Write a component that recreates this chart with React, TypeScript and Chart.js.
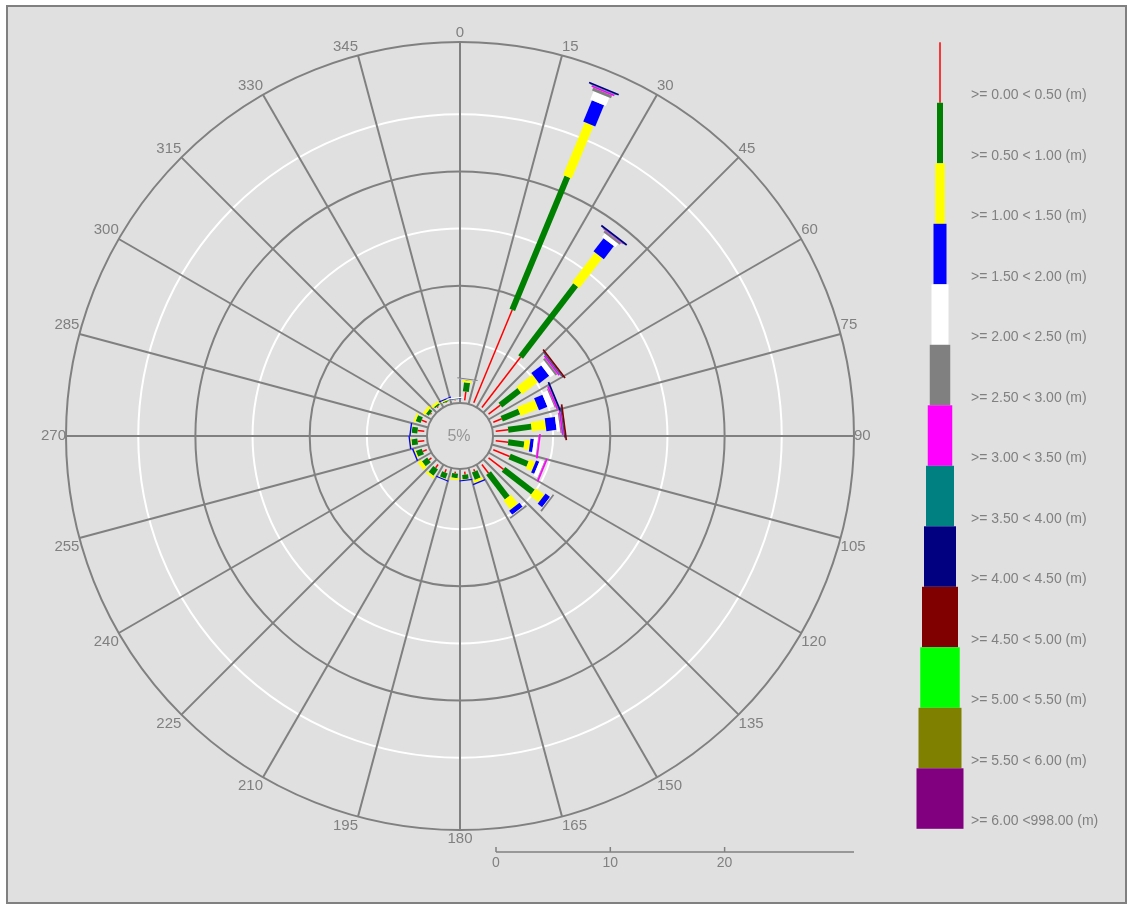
import React, { useEffect, useRef } from 'react';
import { Chart, registerables } from 'chart.js';

Chart.register(...registerables);

// ---------- data ----------
const DIRECTION_LABELS = ['0', '15', '30', '45', '60', '75', '90', '105', '120', '135', '150', '165', '180', '195', '210', '225', '240', '255', '270', '285', '300', '315', '330', '345'];

// bar directions (degrees, clockwise from north)
const BAR_DIRECTIONS = [7.5, 22.5, 37.5, 52.5, 67.5, 82.5, 97.5, 112.5, 127.5, 142.5, 157.5, 172.5, 187.5, 202.5, 217.5, 232.5, 247.5, 262.5, 277.5, 292.5, 307.5, 322.5, 337.5, 352.5];

const CLASS_LABELS = [
  '>= 0.00 < 0.50 (m)', '>= 0.50 < 1.00 (m)', '>= 1.00 < 1.50 (m)', '>= 1.50 < 2.00 (m)',
  '>= 2.00 < 2.50 (m)', '>= 2.50 < 3.00 (m)', '>= 3.00 < 3.50 (m)', '>= 3.50 < 4.00 (m)',
  '>= 4.00 < 4.50 (m)', '>= 4.50 < 5.00 (m)', '>= 5.00 < 5.50 (m)', '>= 5.50 < 6.00 (m)',
  '>= 6.00 <998.00 (m)',
];

// frequency (%) per direction, one array per wave height class
const H_000_050 = [0.76, 8.8, 5.56, 1.3, 0.8, 1.1, 1.1, 1.55, 1.65, 0.95, 0.2, 0.25, 0.15, 0.3, 0.35, 0.27, 0.37, 0.59, 0.59, 0.48, 0.1, 0.1, 0.05, 0.05];
const H_050_100 = [0.8, 12.6, 7.92, 2.1, 1.65, 2.05, 1.4, 1.7, 3.25, 2.7, 0.7, 0.4, 0.4, 0.5, 0.67, 0.58, 0.56, 0.52, 0.5, 0.46, 0.3, 0.15, 0.1, 0.03];
const H_100_150 = [0.2, 5.0, 3.3, 1.75, 1.65, 1.25, 0.5, 0.57, 0.95, 1.0, 0.25, 0.05, 0.15, 0.05, 0.2, 0.35, 0.12, 0.1, 0.05, 0.16, 0.24, 0.2, 0.1, 0.03];
const H_150_200 = [0.02, 2.0, 1.45, 1.1, 0.8, 0.9, 0.3, 0.3, 0.5, 0.45, 0.12, 0.1, 0, 0.1, 0, 0, 0.12, 0.12, 0.12, 0, 0, 0, 0.1, 0.03];
const H_200_250 = [0.05, 0.8, 0.4, 0.45, 0.55, 0.3, 0.35, 0.4, 0.05, 0.05, 0, 0, 0, 0, 0, 0, 0, 0, 0, 0, 0, 0, 0, 0.1];
const H_250_300 = [0.08, 0.27, 0.2, 0.2, 0.1, 0.1, 0.05, 0.05, 0.15, 0.15, 0, 0, 0, 0, 0, 0, 0, 0, 0, 0, 0, 0, 0, 0];
const H_300_350 = [0, 0.15, 0.05, 0.15, 0.15, 0.15, 0.15, 0.15, 0, 0, 0, 0, 0, 0, 0, 0, 0, 0, 0, 0, 0, 0, 0, 0];
const H_350_400 = [0, 0.05, 0.03, 0.05, 0.03, 0.05, 0, 0, 0, 0, 0, 0, 0, 0, 0, 0, 0, 0, 0, 0, 0, 0, 0, 0];
const H_400_450 = [0, 0.15, 0.15, 0.05, 0.15, 0.05, 0, 0, 0, 0, 0, 0, 0, 0, 0, 0, 0, 0, 0, 0, 0, 0, 0, 0];
const H_450_500 = [0, 0, 0, 0.15, 0, 0.15, 0, 0, 0, 0, 0, 0, 0, 0, 0, 0, 0, 0, 0, 0, 0, 0, 0, 0];
const H_500_550 = [0, 0, 0, 0, 0, 0, 0, 0, 0, 0, 0, 0, 0, 0, 0, 0, 0, 0, 0, 0, 0, 0, 0, 0];
const H_550_600 = [0, 0, 0, 0, 0, 0, 0, 0, 0, 0, 0, 0, 0, 0, 0, 0, 0, 0, 0, 0, 0, 0, 0, 0];
const H_600_UP = [0, 0, 0, 0, 0, 0, 0, 0, 0, 0, 0, 0, 0, 0, 0, 0, 0, 0, 0, 0, 0, 0, 0, 0];

const SERIES = [H_000_050, H_050_100, H_100_150, H_150_200, H_200_250, H_250_300, H_300_350, H_350_400, H_400_450, H_450_500, H_500_550, H_550_600, H_600_UP];

// radial scale
const R_MIN = -3.15;
const R_MAX = 31.32;
const HOLE_VALUE = -0.26;
const RING_VALUES = [R_MIN, 5, 10, 15, 20, 25, R_MAX];
const AXIS_TICKS = [0, 10, 20];
const CENTER_LABEL = '5%';

// ---------- styles ----------
const CLASS_COLORS = ['#ff0000', '#008000', '#ffff00', '#0000ff', '#ffffff', '#808080', '#ff00ff', '#008080', '#000080', '#800000', '#00ff00', '#808000', '#800080'];
const CLASS_WIDTHS = [1.5, 6, 9.5, 13, 17, 20.5, 24.5, 28, 32, 36, 39.5, 43, 47];
const BG = '#e0e0e0';
const GRAY = '#808080';
const FONT = '"Liberation Sans", Arial, sans-serif';

const LEGEND_X = 932;
const LEGEND_TOP = 35.3;
const LEGEND_SEG_H = 60.5;
const LEGEND_TEXT_X = 963;
const LEGEND_TEXT_DY = -7.6;
const AXIS_GAP = 22;

function ringColor(v: number): string {
  const near = (a: number) => Math.abs(v - a) < 1e-6;
  if (near(5) || near(15) || near(25)) return '#ffffff';
  if (near(10) || near(20) || near(R_MAX)) return GRAY;
  return 'rgba(0,0,0,0)';
}

const roseBarsPlugin = {
  id: 'roseBars',
  beforeDatasetsDraw(chart: any) {
    const s = chart.scales.r;
    const ctx = chart.ctx;
    ctx.save();
    // centre hole
    const holeR = s.getDistanceFromCenterForValue(HOLE_VALUE);
    ctx.beginPath();
    ctx.arc(s.xCenter, s.yCenter, holeR, 0, Math.PI * 2);
    ctx.fillStyle = BG;
    ctx.fill();
    ctx.lineWidth = 2;
    ctx.strokeStyle = GRAY;
    ctx.stroke();
    ctx.fillStyle = '#969696';
    ctx.font = `16px ${FONT}`;
    ctx.textAlign = 'center';
    ctx.textBaseline = 'middle';
    ctx.fillText(CENTER_LABEL, s.xCenter - 1, s.yCenter + 1);

    // stacked bars
    const step = 360 / DIRECTION_LABELS.length;
    ctx.lineCap = 'butt';
    BAR_DIRECTIONS.forEach((dir, k) => {
      const idx = dir / step;
      let base = 0;
      SERIES.forEach((series, c) => {
        const v = series[k];
        if (!v) return;
        const p0 = s.getPointPositionForValue(idx, base);
        const p1 = s.getPointPositionForValue(idx, base + v);
        ctx.beginPath();
        ctx.moveTo(p0.x, p0.y);
        ctx.lineTo(p1.x, p1.y);
        ctx.lineWidth = CLASS_WIDTHS[c];
        ctx.strokeStyle = CLASS_COLORS[c];
        ctx.stroke();
        base += v;
      });
    });
    ctx.restore();
  },
  afterDraw(chart: any) {
    const s = chart.scales.r;
    const ctx = chart.ctx;
    ctx.save();
    // distance axis
    const y = s.yCenter + s.drawingArea + AXIS_GAP;
    const x0 = s.xCenter + s.getDistanceFromCenterForValue(0);
    const x1 = s.xCenter + s.getDistanceFromCenterForValue(R_MAX);
    ctx.strokeStyle = GRAY;
    ctx.lineWidth = 1.5;
    ctx.beginPath();
    ctx.moveTo(x0, y);
    ctx.lineTo(x1, y);
    ctx.stroke();
    ctx.fillStyle = GRAY;
    ctx.font = `14px ${FONT}`;
    ctx.textAlign = 'center';
    ctx.textBaseline = 'middle';
    AXIS_TICKS.forEach((t) => {
      const x = s.xCenter + s.getDistanceFromCenterForValue(t);
      ctx.beginPath();
      ctx.moveTo(x, y - 5);
      ctx.lineTo(x, y);
      ctx.stroke();
      ctx.fillText(String(t), x, y + 11.5);
    });

    // legend
    ctx.textAlign = 'left';
    CLASS_LABELS.forEach((label, c) => {
      const top = LEGEND_TOP + c * LEGEND_SEG_H;
      const w = CLASS_WIDTHS[c];
      ctx.fillStyle = CLASS_COLORS[c];
      ctx.fillRect(LEGEND_X - w / 2, top, w, LEGEND_SEG_H);
      ctx.fillStyle = GRAY;
      ctx.fillText(label, LEGEND_TEXT_X, top + LEGEND_SEG_H + LEGEND_TEXT_DY);
    });
    ctx.restore();
  },
};

export default function App() {
  const canvasRef = useRef<HTMLCanvasElement | null>(null);

  useEffect(() => {
    if (!canvasRef.current) return;
    const chart = new Chart(canvasRef.current, {
      type: 'radar',
      data: { labels: DIRECTION_LABELS, datasets: [] },
      options: {
        animation: false,
        responsive: false,
        maintainAspectRatio: false,
        layout: { padding: { left: 8, right: 221, top: 17, bottom: 54 } },
        plugins: { legend: { display: false }, tooltip: { enabled: false } },
        scales: {
          r: {
            min: R_MIN,
            max: R_MAX,
            startAngle: 0,
            afterBuildTicks: (scale: any) => {
              scale.ticks = RING_VALUES.map((v) => ({ value: v }));
            },
            ticks: { display: false },
            grid: {
              circular: true,
              lineWidth: 2,
              color: (c: any) => ringColor(c.tick ? c.tick.value : NaN),
            },
            angleLines: { color: GRAY, lineWidth: 2 },
            pointLabels: {
              color: GRAY,
              padding: 0,
              font: { family: FONT, size: 15 },
            },
          },
        },
      } as any,
      plugins: [roseBarsPlugin],
    });
    return () => chart.destroy();
  }, []);

  return (
    <div
      style={{
        position: 'absolute',
        left: 6,
        top: 5,
        width: 1121,
        height: 899,
        boxSizing: 'border-box',
        border: '2px solid #808080',
        background: BG,
      }}
    >
      <canvas ref={canvasRef} width={1117} height={895} style={{ display: 'block' }} />
    </div>
  );
}
